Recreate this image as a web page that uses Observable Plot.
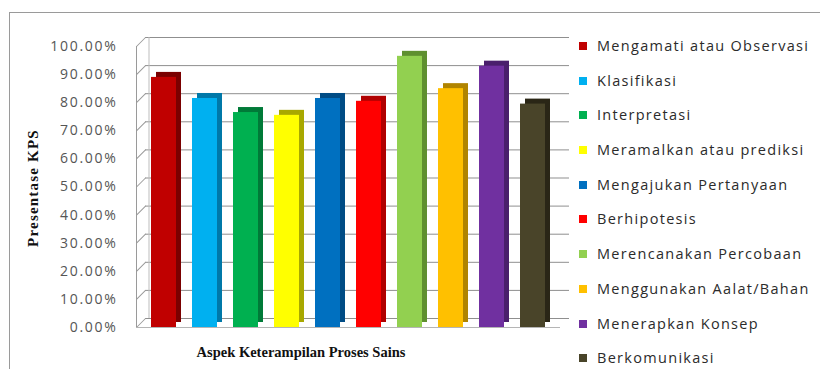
<!DOCTYPE html>
<html>
<head>
<meta charset="utf-8">
<script src="https://cdn.jsdelivr.net/npm/d3@7"></script>
<script src="https://cdn.jsdelivr.net/npm/@observablehq/plot@0.6"></script>
<style>
  html, body { margin: 0; padding: 0; background: #fff; }
  #wrap { position: relative; width: 820px; height: 369px; overflow: hidden; }
  #border { position: absolute; left: 9px; top: 12px; width: 830px; height: 380px;
            border-left: 1.5px solid #9a9a9a; border-top: 1.5px solid #9a9a9a; box-sizing: border-box; }
  #chart { position: absolute; left: 0; top: 0; }
  #legend { position: absolute; left: 579px; top: 36px; font-family: "Open Sans", sans-serif;
            font-size: 14.5px; color: #2b2b2b; letter-spacing: 1.3px; white-space: nowrap; }
  #legend .item { height: 34.7px; display: flex; align-items: flex-start; }
  #legend .sw { width: 8px; height: 8px; margin-top: 6px; margin-right: 10px; flex: none; }
  #ytitle { position: absolute; left: 33px; top: 188px; transform: translate(-50%, -50%) rotate(-90deg);
            font-family: "Liberation Serif", "Times New Roman", serif; font-weight: bold; font-size: 15px;
            letter-spacing: 1.2px; white-space: nowrap; color: #111; }
  #xtitle { position: absolute; left: 301px; top: 352px; transform: translate(-50%, -50%);
            font-family: "Liberation Serif", "Times New Roman", serif; font-weight: bold; font-size: 14.5px;
            white-space: nowrap; color: #111; }
</style>
</head>
<body>
<div id="wrap">
  <div id="border"></div>
  <div id="chart"></div>
  <div id="ytitle">Presentase KPS</div>
  <div id="xtitle">Aspek Keterampilan Proses Sains</div>
  <div id="legend"></div>
</div>
<script>
const categories = [
  "Mengamati atau Observasi",
  "Klasifikasi",
  "Interpretasi",
  "Meramalkan atau prediksi",
  "Mengajukan Pertanyaan",
  "Berhipotesis",
  "Merencanakan Percobaan",
  "Menggunakan Aalat/Bahan",
  "Menerapkan Konsep",
  "Berkomunikasi"
];
const values = [0.89, 0.815, 0.765, 0.755, 0.815, 0.805, 0.965, 0.85, 0.93, 0.795];
const colors = ["#C00000", "#00B0F0", "#00B050", "#FFFF00", "#0070C0", "#FF0000", "#92D050", "#FFC000", "#7030A0", "#494429"];
const sideColors = ["#7a0000", "#0078a8", "#007a38", "#a8a800", "#004c85", "#b00000", "#5f9030", "#b08400", "#4a1f6c", "#2a2616"];
const yTicks = [0, 0.1, 0.2, 0.3, 0.4, 0.5, 0.6, 0.7, 0.8, 0.9, 1.0];

const data = categories.map((c, i) => ({cat: c, value: values[i], color: colors[i], side: sideColors[i]}));

const spike = { draw(context, l) { context.moveTo(0, 0); context.lineTo(0, -l); } };

const chart = Plot.plot({
  width: 820,
  height: 369,
  marginLeft: 136,
  marginRight: 260,
  marginTop: 46,
  marginBottom: 42,
  x: { domain: categories, paddingInner: 0.4, paddingOuter: 0.28, axis: null },
  y: { domain: [0, 1], axis: null },
  marks: [
    Plot.ruleY(yTicks, { y: d => d, dx: 9, dy: -9, stroke: "#8f8f8f", strokeWidth: 1 }),
    Plot.ruleX([categories[0]], { x: d => d, y1: 0, y2: 1, dx: -24 + 9, dy: -9, stroke: "#bdbdbd", strokeWidth: 1 }),
    Plot.frame({ anchor: "left", stroke: "#9a9a9a" }),
    Plot.vector(yTicks, { y: d => d, frameAnchor: "left", length: 12.7, rotate: 45, anchor: "start", shape: spike, stroke: "#9a9a9a", strokeWidth: 1 }),
    Plot.text(yTicks, { y: d => d, frameAnchor: "left", dx: -19, textAnchor: "end", text: d => (d * 100).toFixed(2) + "%",
      fill: "#555", fontSize: 14, fontFamily: "Open Sans, sans-serif" }),
    Plot.ruleY([0], { stroke: "#b5b5b5", strokeWidth: 1 }),
    Plot.barY(data, { x: "cat", y: "value", fill: "side", dx: 5, dy: -5 }),
    Plot.barY(data, { x: "cat", y: "value", fill: "color" })
  ],
  style: { background: "transparent" }
});
chart.querySelectorAll("text").forEach(t => t.setAttribute("letter-spacing", "1.7"));
document.getElementById("chart").appendChild(chart);

const legend = document.getElementById("legend");
categories.forEach((c, i) => {
  const item = document.createElement("div");
  item.className = "item";
  const sw = document.createElement("span");
  sw.className = "sw";
  sw.style.background = colors[i];
  const label = document.createElement("span");
  label.textContent = c;
  item.appendChild(sw);
  item.appendChild(label);
  legend.appendChild(item);
});
</script>
</body>
</html>
